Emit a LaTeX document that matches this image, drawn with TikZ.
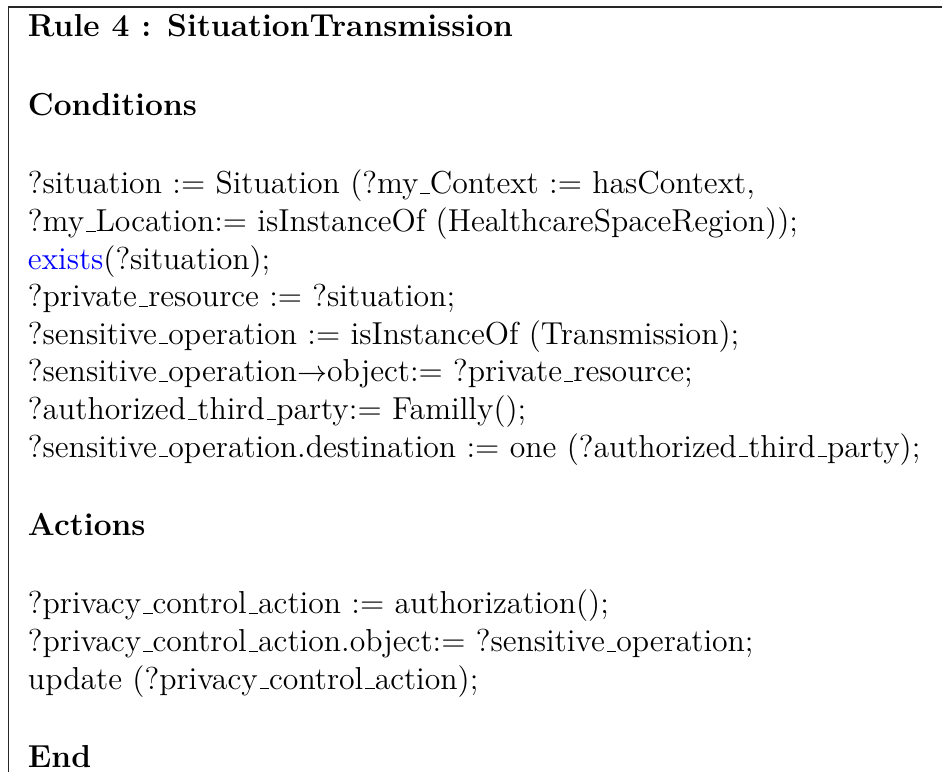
\documentclass[tikz,border=0pt]{standalone}
\usepackage{xcolor}
\definecolor{kwblue}{RGB}{0,0,255}
% classic short underscore rule, as set by the old OT1 text encoding
\newcommand{\uscore}{\leavevmode\kern.06em\vbox{\hrule width.3em}}
\begin{document}
\begin{tikzpicture}[x=0.4pt,y=-0.4pt,
  line/.style={anchor=base west,inner sep=0pt,outer sep=0pt,
    font=\fontsize{12.7}{15.2}\selectfont},
  head/.style={line,font=\fontsize{12.7}{15.2}\selectfont\bfseries},
  frame/.style={line width=0.7pt,draw=black!85}]
\useasboundingbox (0,0) rectangle (942,772);
% frame: top rule and left rule only
\coordinate (tl) at (8.5,7);
\coordinate (tr) at (942,7);
\coordinate (bl) at (8.5,772);
\draw[frame] (tr) -- (tl) -- (bl);
% rule text
\node[head] (title) at (28,37) {Rule 4 : SituationTransmission};
\node[head] (cond) at (28,115.5) {Conditions};
\node[line] (c1) at (28,194) {?situation := Situation (?my\uscore Context := hasContext,};
\node[line] (c2) at (28,231.6) {?my\uscore Location:= isInstanceOf (HealthcareSpaceRegion));};
\node[line] (c3) at (28,269.2) {\textcolor{kwblue}{exists}(?situation);};
\node[line] (c4) at (28,306.8) {?private\uscore resource := ?situation;};
\node[line] (c5) at (28,344.4) {?sensitive\uscore operation := isInstanceOf (Transmission);};
\node[line] (c6) at (28,382) {?sensitive\uscore operation$\rightarrow$object:= ?private\uscore resource;};
\node[line] (c7) at (28,419.6) {?authorized\uscore third\uscore party:= Familly();};
\node[line] (c8) at (28,457.2) {?sensitive\uscore operation.destination := one (?authorized\uscore third\uscore party);};
\node[head] (act) at (28,535.5) {Actions};
\node[line] (a1) at (28,614) {?privacy\uscore control\uscore action := authorization();};
\node[line] (a2) at (28,651.6) {?privacy\uscore control\uscore action.object:= ?sensitive\uscore operation;};
\node[line] (a3) at (28,689.2) {update (?privacy\uscore control\uscore action);};
\node[head] (end) at (28,767.7) {End};
\end{tikzpicture}
\end{document}
